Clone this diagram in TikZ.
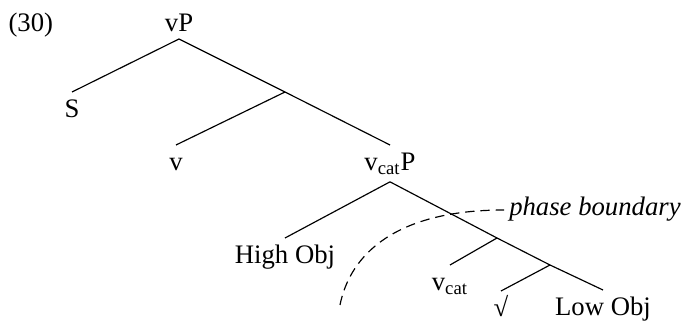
\documentclass[tikz,border=0pt]{standalone}
\usepackage{fontspec}
\setmainfont{Liberation Serif}
\begin{document}
\begin{tikzpicture}[x=0.015cm,y=-0.015cm,line width=0.5pt,
    font=\fontsize{11.4}{13.5}\selectfont,
    lbl/.style={inner xsep=1pt,inner ysep=3pt,text height=7.5pt},
    boundary/.style={dash pattern=on 4pt off 2.5pt}]
    \useasboundingbox (0,0) rectangle (682,321);

    \node[anchor=base west,inner sep=0pt] (num) at (8,31.5) {(30)};
    \node[lbl,anchor=south] (vP) at (179,39) {vP};
    \node[lbl,anchor=north] (S) at (72,92) {S};
    \coordinate (j1) at (285,92);
    \node[lbl,anchor=north] (v) at (176,145) {v};
    \node[lbl,anchor=north] (vcatP) at (390,145) {v\textsubscript{cat}P};

    \node[lbl,anchor=north] (high) at (285,238) {High Obj};
    \coordinate (j2) at (497,238);
    \node[lbl,anchor=north] (vcat) at (450,265) {v\textsubscript{cat}};
    \coordinate (j3) at (550,265);
    \node[lbl,anchor=north] (root) at (501,291) {√};
    \node[lbl,anchor=north] (low) at (603,290) {Low Obj};

    \draw (vP.south) -- (S.north);
    \draw (vP.south) -- (j1) -- (vcatP.north);
    \draw (j1) -- (v.north);
    \draw (vcatP.south) -- (high.north);
    \draw (vcatP.south) -- (j2) -- (j3) -- (low.north);
    \draw (j2) -- (vcat.north);
    \draw (j3) -- (root.north);

    \node[lbl,anchor=west,inner xsep=2pt] (phase) at (504,210) {\itshape phase boundary};
    \coordinate (bstart) at (340,305);
    \draw[boundary] (bstart) .. controls (350,255) and (395,210) .. (phase.west);
\end{tikzpicture}
\end{document}
